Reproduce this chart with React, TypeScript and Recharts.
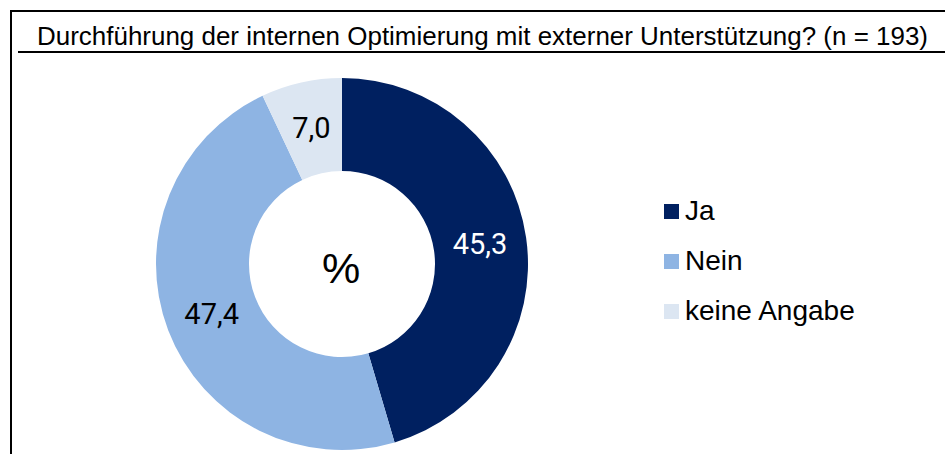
import { PieChart, Pie, Cell, Legend } from "recharts";

const categories = ["Ja", "Nein", "keine Angabe"];
const shares = [45.3, 47.4, 7.0];
const colors = ["#002060", "#8EB4E3", "#DCE6F2"];
const labelColors = ["#ffffff", "#000000", "#000000"];

const title = "Durchführung der internen Optimierung mit externer Unterstützung? (n = 193)";

const data = categories.map((name, i) => ({ name, value: shares[i] }));

const RAD = Math.PI / 180;

// label in der Mitte des Rings, Komma als Dezimaltrenner
function renderLabel(props: any) {
  const { cx, cy, midAngle, innerRadius, outerRadius, index, value } = props;
  const r = (innerRadius + outerRadius) / 2;
  const x = cx + r * Math.cos(-midAngle * RAD);
  const y = cy + r * Math.sin(-midAngle * RAD);
  return (
    <text
      x={x}
      y={y}
      fill={labelColors[index]}
      textAnchor="middle"
      dominantBaseline="central"
      fontFamily="Roboto, sans-serif"
      fontSize={29}
    >
      {value.toFixed(1).replace(".", ",")}
    </text>
  );
}

function LegendBox() {
  return (
    <div style={{ fontFamily: "'Liberation Sans', Arial, sans-serif" }}>
      {data.map((d, i) => (
        <div
          key={d.name}
          style={{ display: "flex", alignItems: "center", height: 50, fontSize: 28, color: "#000" }}
        >
          <span
            style={{ width: 15, height: 15, background: colors[i], marginRight: 6, display: "inline-block" }}
          />
          {d.name}
        </div>
      ))}
    </div>
  );
}

export default function App() {
  return (
    <div style={{ position: "absolute", left: 0, top: 0, width: 945, height: 454, background: "#fff" }}>
      <svg width={945} height={454} style={{ position: "absolute", left: 0, top: 0 }}>
        <line x1={10} y1={11} x2={945} y2={11} stroke="#000" strokeWidth={2} />
        <line x1={11} y1={10} x2={11} y2={454} stroke="#000" strokeWidth={2} />
        <line x1={18} y1={52} x2={945} y2={52} stroke="#000" strokeWidth={2} />
        <text
          x={37}
          y={45}
          fontFamily="'Liberation Sans', Arial, sans-serif"
          fontSize={25}
          textLength={891}
          lengthAdjust="spacingAndGlyphs"
          fill="#000"
        >
          {title}
        </text>
      </svg>
      <div style={{ position: "absolute", left: 0, top: 0 }}>
        <PieChart width={945} height={454} margin={{ top: 0, right: 0, bottom: 0, left: 0 }}>
          <Pie
            data={data}
            dataKey="value"
            nameKey="name"
            cx={342}
            cy={264}
            innerRadius={93}
            outerRadius={186}
            startAngle={90}
            endAngle={-270}
            stroke="none"
            label={renderLabel}
            labelLine={false}
            isAnimationActive={false}
          >
            {data.map((d, i) => (
              <Cell key={d.name} fill={colors[i]} />
            ))}
          </Pie>
          <Legend
            content={<LegendBox />}
            wrapperStyle={{ position: "absolute", left: 664, top: 186, width: 260 }}
          />
          <text
            x={341}
            y={268}
            textAnchor="middle"
            dominantBaseline="central"
            fontFamily="'Liberation Sans', Arial, sans-serif"
            fontSize={43}
            fill="#000"
          >
            %
          </text>
        </PieChart>
      </div>
    </div>
  );
}
